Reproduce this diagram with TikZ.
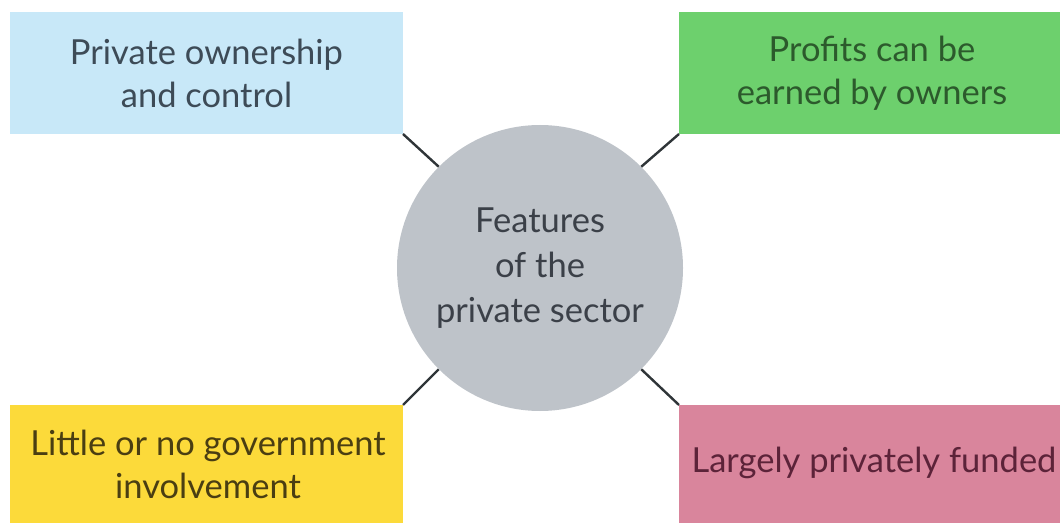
\documentclass[tikz,border=0pt]{standalone}
\usepackage{fontspec}
\setmainfont{Lato}
\definecolor{boxblue}{HTML}{C8E8F8}
\definecolor{boxgreen}{HTML}{6DD06D}
\definecolor{boxyellow}{HTML}{FCDA3A}
\definecolor{boxpink}{HTML}{D9859C}
\definecolor{hubgray}{HTML}{BEC3C9}
\definecolor{linkdark}{HTML}{2F3538}
\definecolor{txtblue}{HTML}{3D4B57}
\definecolor{txtgreen}{HTML}{2C5A2C}
\definecolor{txtyellow}{HTML}{4A3E12}
\definecolor{txtpink}{HTML}{5C2339}
\definecolor{txthub}{HTML}{3B4048}
\begin{document}
\begin{tikzpicture}[x=1pt,y=1pt,
  feature/.style={draw=none, rectangle, inner sep=0pt, align=center,
    font=\fontsize{34.5}{43}\selectfont},
  hub/.style={circle, fill=hubgray, draw=none, minimum size=286pt, inner sep=0pt,
    align=center, text=txthub, font=\fontsize{34.5}{45}\selectfont},
  link/.style={draw=linkdark, line width=2.4pt}]
  \useasboundingbox (0,0) rectangle (1060,523);
  % the four feature boxes
  \fill[boxblue]   (10,389)  rectangle (403,511);
  \fill[boxgreen]  (679,389) rectangle (1060,511);
  \fill[boxyellow] (10,0)    rectangle (403,118);
  \fill[boxpink]   (679,0)   rectangle (1060,118);
  \coordinate (bl) at (403,389);
  \coordinate (gr) at (679,389);
  \coordinate (ye) at (403,118);
  \coordinate (pk) at (679,118);
  \node[feature, text=txtblue]   (blue)   at (206.5,450) {Private ownership\\and control};
  \node[feature, text=txtgreen]  (green)  at (872,450)   {Profits can be\\earned by owners};
  \node[feature, text=txtyellow] (yellow) at (208,59)    {Little or no government\\involvement};
  \node[feature, text=txtpink]   (pink)   at (874,60)    {Largely privately funded};
  % central hub
  \node[hub] (c) at (540,255) {Features\\of the\\private sector};
  \draw[link] (bl) -- (c.north west);
  \draw[link] (gr) -- (c.north east);
  \draw[link] (ye) -- (c.south west);
  \draw[link] (pk) -- (c.south east);
\end{tikzpicture}
\end{document}
